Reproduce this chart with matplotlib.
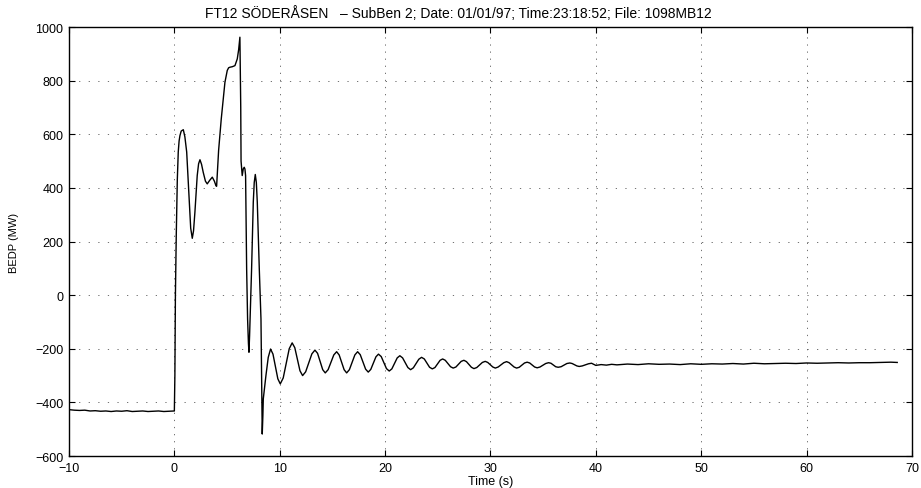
#!/usr/bin/env python3
"""
Recreate the FT12 SODERASEN BEDP power trace (MATLAB-style plot).
"""

import matplotlib

matplotlib.use("Agg")
import matplotlib.pyplot as plt

TITLE = "FT12 SÖDERÅSEN   – SubBen 2; Date: 01/01/97; Time:23:18:52; File: 1098MB12"
X_LABEL = "Time (s)"
Y_LABEL = "BEDP (MW)"
X_TICKS = [-10, 0, 10, 20, 30, 40, 50, 60, 70]
Y_TICKS = [-600, -400, -200, 0, 200, 400, 600, 800, 1000]

# pre-fault steady state
pre_t = [-10.0, -9.5, -9.0, -8.5, -8.0, -7.5, -7.0, -6.5, -6.0, -5.5, -5.0,
         -4.5, -4.0, -3.5, -3.0, -2.5, -2.0, -1.5, -1.0, -0.5, -0.05]
pre_p = [-427, -429, -430, -429, -432, -431, -433, -432, -434, -432, -433,
         -431, -434, -433, -432, -434, -433, -432, -434, -433, -432]

# transient after the step
trans_t = [0.0, 0.05, 0.10, 0.18, 0.28, 0.37, 0.45, 0.53, 0.65, 0.85, 1.00,
           1.17, 1.42, 1.55, 1.70, 1.82, 1.95, 2.17, 2.30, 2.43, 2.58, 2.74,
           2.95, 3.12, 3.35, 3.60, 3.80, 3.95, 4.01, 4.20, 4.45, 4.58, 4.80,
           5.02, 5.15, 5.27, 5.50, 5.75, 5.97, 6.10, 6.22, 6.30, 6.33, 6.44,
           6.54, 6.63, 6.70, 6.76, 6.86, 6.95, 7.03, 7.08, 7.14, 7.24, 7.33,
           7.49, 7.58, 7.68, 7.78, 7.87, 8.06, 8.22, 8.30, 8.34, 8.40, 8.44,
           8.69, 8.91]
trans_p = [-432, -300, 0, 222, 430, 534, 575, 595, 612, 617, 590,
           534, 348, 250, 212, 240, 309, 446, 490, 505, 488, 458,
           425, 415, 428, 440, 425, 408, 406, 540, 657, 707, 794,
           838, 848, 850, 852, 856, 881, 915, 962, 700, 500, 446,
           471, 477, 470, 446, 98, -89, -180, -213, -150, -14, 98,
           347, 420, 450, 420, 347, 98, -89, -400, -518, -450, -387,
           -300, -232]

# damped power swing
swing_t = [9.13, 9.36, 9.82, 10.05, 10.33, 10.90, 11.18, 11.43, 11.92, 12.17,
           12.46, 13.05, 13.34, 13.59, 14.08, 14.32, 14.59, 15.13, 15.40, 15.64,
           16.11, 16.35, 16.61, 17.13, 17.39, 17.64, 18.15, 18.40, 18.64, 19.13,
           19.37, 19.63, 20.13, 20.39, 20.64, 21.15, 21.40, 21.66, 22.16, 22.42,
           22.68, 23.20, 23.46, 23.72, 24.22, 24.48, 24.73, 25.22, 25.46, 25.71,
           26.21, 26.46, 26.72, 27.22, 27.48, 27.72, 28.19, 28.43, 28.70, 29.23,
           29.50, 29.74, 30.22, 30.46, 30.73, 31.26, 31.53, 31.77, 32.24, 32.48,
           32.73, 33.23, 33.48, 33.72, 34.19, 34.43, 34.70, 35.24, 35.51, 35.74,
           36.19, 36.42, 36.70, 37.25, 37.53, 37.75, 38.20, 38.42, 38.71, 39.30,
           39.59]
swing_p = [-201, -220, -312, -331, -309, -200, -178, -196, -282, -300,
           -286, -219, -205, -217, -278, -290, -278, -223, -211, -223,
           -278, -290, -278, -223, -211, -222, -276, -287, -277, -230,
           -220, -229, -274, -283, -275, -234, -226, -234, -270, -278,
           -271, -239, -232, -238, -269, -275, -270, -243, -238, -243,
           -267, -272, -268, -247, -243, -248, -269, -274, -270, -251,
           -247, -251, -268, -272, -268, -252, -248, -252, -268, -272,
           -269, -253, -250, -253, -268, -271, -268, -255, -252, -254,
           -267, -269, -267, -255, -253, -255, -264, -266, -264, -256,
           -254]

# settled tail
tail_t = [40.0, 40.5, 41.0, 41.5, 42.0, 43.0, 44.0, 45.0, 46.0, 47.0, 48.0,
          49.0, 50.0, 51.0, 52.0, 53.0, 54.0, 55.0, 56.0, 57.0, 58.0, 59.0,
          60.0, 61.0, 62.0, 63.0, 64.0, 65.0, 66.0, 67.0, 68.0, 68.6]
tail_p = [-262, -259, -261, -258, -260, -257, -259, -256, -258, -257, -259,
          -256, -258, -256, -257, -255, -257, -254, -256, -255, -254, -255,
          -253, -254, -253, -252, -253, -252, -252, -251, -250, -251]


def main() -> None:
    plt.rcParams["font.family"] = ["Liberation Sans", "DejaVu Sans"]

    t = pre_t + trans_t + swing_t + tail_t
    p = pre_p + trans_p + swing_p + tail_p

    fig = plt.figure(figsize=(9.21, 4.89), dpi=100)
    ax = fig.add_axes([0.0749, 0.0654, 0.9153, 0.8773])

    ax.plot(t, p, color="black", linewidth=1.0)

    ax.set_xlim(-10, 70)
    ax.set_ylim(-600, 1000)
    ax.set_xticks(X_TICKS)
    ax.set_yticks(Y_TICKS)
    ax.tick_params(direction="in", top=True, right=True, length=4,
                   width=0.8, labelsize=9)
    ax.tick_params(axis="x", pad=4)
    ax.tick_params(axis="y", pad=4)

    ax.xaxis.grid(True, color="0.35", linestyle=(0, (1.5, 7)), linewidth=0.6)
    ax.yaxis.grid(True, color="0.35", linestyle=(0, (1.5, 10)), linewidth=0.6)
    for spine in ax.spines.values():
        spine.set_linewidth(1.0)

    # title sits centred on the figure rather than the axes
    fig.text(0.498, 0.973, TITLE, fontsize=10, ha="center", va="center")
    ax.set_xlabel(X_LABEL, fontsize=9, labelpad=1)
    ax.set_ylabel(Y_LABEL, fontsize=8,
                  family=["Liberation Sans Narrow", "Liberation Sans"],
                  labelpad=12)

    fig.savefig("out.png", dpi=100)


if __name__ == "__main__":
    main()
